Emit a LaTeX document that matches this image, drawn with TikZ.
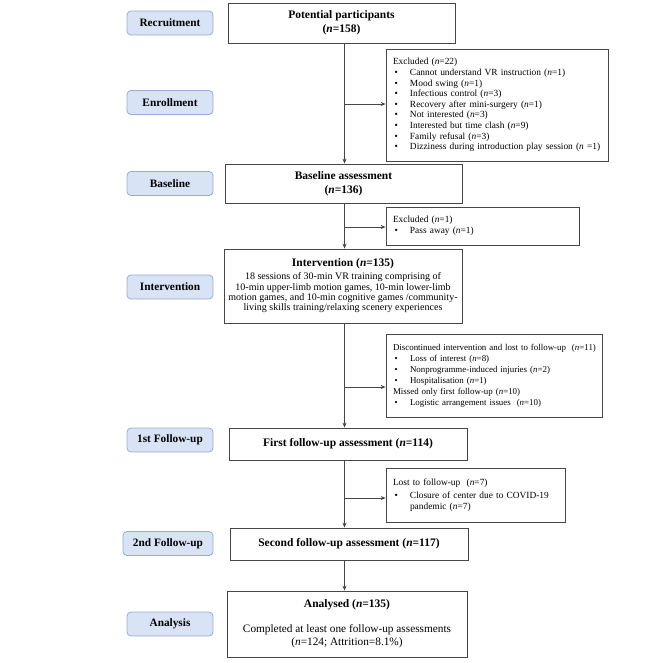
\documentclass[tikz,border=0pt]{standalone}
\usepackage{fontspec}
\setmainfont{Liberation Serif}
\usetikzlibrary{arrows.meta}
\definecolor{labfill}{RGB}{216,227,245}
\definecolor{labdraw}{RGB}{150,172,212}
\definecolor{boxdraw}{RGB}{70,70,70}
\newcommand{\bul}{\makebox[17pt][l]{\hspace{1.5pt}\textbullet}}
\newcommand{\nn}{\textit{n}}
\begin{document}
\begin{tikzpicture}[x=1pt,y=-1pt,
  mbox/.style={draw=boxdraw, line width=0.8pt, fill=white, inner sep=0pt, align=center},
  sbox/.style={draw=boxdraw, line width=0.8pt, fill=white, inner xsep=7pt, inner ysep=0pt, align=left},
  lab/.style={draw=labdraw, fill=labfill, rounded corners=4pt, line width=0.8pt,
    minimum width=86pt, minimum height=24pt, inner sep=0pt,
    font=\bfseries\fontsize{11.3}{13}\selectfont},
  ttl/.style={font=\bfseries\fontsize{11.5}{14}\selectfont},
  small/.style={font=\fontsize{9.4}{10.6}\selectfont},
  arr/.style={draw=boxdraw, line width=0.8pt, -{Stealth[length=5pt,width=4pt]}}
]
\useasboundingbox (0,0) rectangle (666,662);

% stage labels
\node[lab] (l1) at (170,23) {Recruitment};
\node[lab] (l2) at (170,102.5) {Enrollment};
\node[lab] (l3) at (170,183.5) {Baseline};
\node[lab] (l4) at (170,287) {Intervention};
\node[lab] (l5) at (170,440) {1st Follow-up};
\node[lab, minimum width=90pt] (l6) at (168,543.5) {2nd Follow-up};
\node[lab] (l7) at (170,624) {Analysis};

% main boxes
\node[mbox, ttl, minimum width=227pt, minimum height=40pt] (pot) at (341.5,23)
  {Potential participants\\(\nn=158)};
\node[mbox, ttl, minimum width=237pt, minimum height=39pt] (base) at (343.5,183.5)
  {Baseline assessment\\(\nn=136)};
\node[mbox, minimum width=238pt, minimum height=74pt, font=\fontsize{10}{10.3}\selectfont] (interv) at (343,286)
  {{\bfseries\fontsize{11.5}{13}\selectfont Intervention (\nn=135)}\\[2.7pt]
   18 sessions of 30-min VR training comprising of\\
   10-min upper-limb motion games, 10-min lower-limb\\
   motion games, and 10-min cognitive games /community-\\
   living skills training/relaxing scenery experiences};
\node[mbox, ttl, minimum width=238pt, minimum height=32pt] (fu1) at (348,444)
  {First follow-up assessment (\nn=114)};
\node[mbox, ttl, minimum width=238pt, minimum height=32pt] (fu2) at (349,544)
  {Second follow-up assessment (\nn=117)};
\node[mbox, minimum width=240pt, minimum height=66pt, font=\fontsize{11.3}{13}\selectfont] (anal) at (347,624)
  {{\bfseries\fontsize{11.5}{13}\selectfont Analysed (\nn=135)}\\[12pt]
   Completed at least one follow-up assessments\\
   (\nn=124; Attrition=8.1\%)};

% side boxes
\node[sbox, small, text width=208pt, minimum height=112pt] (exc1) at (497,105)
  {Excluded (\nn=22)\\
   \mbox{\bul Cannot understand VR instruction (\nn=1)}\\
   \mbox{\bul Mood swing (\nn=1)}\\
   \mbox{\bul Infectious control (\nn=3)}\\
   \mbox{\bul Recovery after mini-surgery (\nn=1)}\\
   \mbox{\bul Not interested (\nn=3)}\\
   \mbox{\bul Interested but time clash (\nn=9)}\\
   \mbox{\bul Family refusal (\nn=3)}\\
   \mbox{\bul Dizziness during introduction play session (\nn\ =1)}};
\node[sbox, small, text width=179pt, minimum height=38pt] (exc2) at (482.5,226)
  {Excluded (\nn=1)\\
   \mbox{\bul Pass away (\nn=1)}};
\node[sbox, font=\fontsize{8.9}{11}\selectfont, text width=202pt, minimum height=83pt] (disc) at (494,375.5)
  {\mbox{Discontinued intervention and lost to follow-up~~(\nn=11)}\\
   \mbox{\bul Loss of interest (\nn=8)}\\
   \mbox{\bul Nonprogramme-induced injuries (\nn=2)}\\
   \mbox{\bul Hospitalisation (\nn=1)}\\
   \mbox{Missed only first follow-up (\nn=10)}\\
   \mbox{\bul Logistic arrangement issues~~(\nn=10)}};
\node[sbox, small, text width=165pt, minimum height=54pt] (lost) at (475.5,495)
  {\mbox{Lost to follow-up~~(\nn=7)}\\[3pt]
   \mbox{\bul Closure of center due to COVID-19}\\
   \mbox{\hspace*{17pt}pandemic (\nn=7)}};

% spine
\coordinate (sp) at (344.5,0);
\draw[arr] (pot.south -| sp) -- (base.north -| sp);
\draw[arr] (base.south -| sp) -- (interv.north -| sp);
\draw[arr] (interv.south -| sp) -- (fu1.north -| sp);
\draw[arr] (fu1.south -| sp) -- (fu2.north -| sp);
\draw[arr] (fu2.south -| sp) -- (anal.north -| sp);

% branches
\coordinate (j1) at (344.5,104);
\coordinate (j2) at (344.5,227);
\coordinate (j3) at (344.5,387);
\coordinate (j4) at (344.5,498);
\draw[arr] (j1) -- (j1 -| exc1.west);
\draw[arr] (j2) -- (j2 -| exc2.west);
\draw[arr] (j3) -- (j3 -| disc.west);
\draw[arr] (j4) -- (j4 -| lost.west);
\end{tikzpicture}
\end{document}
